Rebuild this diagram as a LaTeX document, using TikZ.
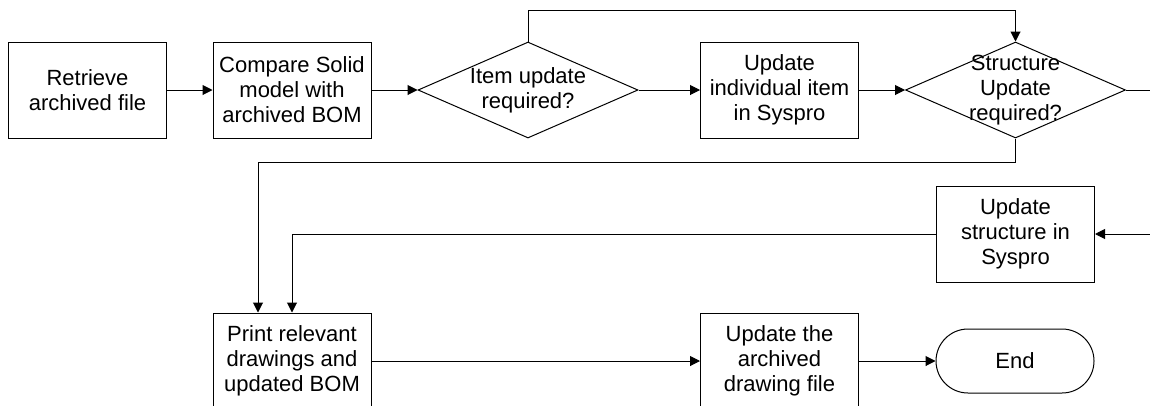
\documentclass[tikz,border=0pt]{standalone}
\usepackage{fontspec}
\setmainfont{Liberation Sans}
\usetikzlibrary{shapes.geometric,shapes.misc,arrows.meta}
\begin{document}
\begin{tikzpicture}[x=1pt,y=-1pt,
  every node/.style={font=\fontsize{22}{25}\selectfont, align=center, inner sep=0pt},
  proc/.style={draw, line width=1pt, minimum width=158pt, minimum height=96pt},
  decision/.style={draw, diamond, line width=1pt, minimum width=220pt, minimum height=96pt},
  term/.style={draw, rounded rectangle, line width=1pt, minimum width=158pt, minimum height=64pt},
  flow/.style={line width=1pt, -{Triangle[length=10pt,width=10pt]}},
  link/.style={line width=1pt}]
\useasboundingbox (0,0) rectangle (1150,405);

% top row
\node[proc] (retrieve) at (87.5,90) {Retrieve\\archived file};
\node[proc] (compare) at (292,90) {Compare Solid\\model with\\archived BOM};
\node[decision] (itemq) at (528,90) {};
\node (itemqt) at (itemq) {Item update\\required?};
\node[proc] (upditem) at (779.5,90) {Update\\individual item\\in Syspro};
\node[decision] (structq) at (1015.5,90) {};
\node (structqt) at (structq) {Structure\\Update\\required?};

% middle and bottom rows
\node[proc] (updstruct) at (1015.5,234) {Update\\structure in\\Syspro};
\node[proc] (print) at (292,361) {Print relevant\\drawings and\\updated BOM};
\node[proc] (updfile) at (779.5,361) {Update the\\archived\\drawing file};
\node[term] (end) at (1015,361) {End};

% loose ends at the right margin
\coordinate (outR) at (1150,90);
\coordinate (inR) at (1150,234);

% connectors
\draw[flow] (retrieve) -- (compare);
\draw[flow] (compare) -- (itemq);
\draw[flow] (itemq) -- (upditem);
\draw[flow] (upditem) -- (structq);
\draw[flow] (itemq.north) -- ++(0,-31) -| (structq.north);
\draw[link] (structq.east) -- (outR);
\draw[flow] (inR) -- (updstruct.east);
\draw[flow] (structq.south) -- ++(0,24) -| ([xshift=-34pt]print.north);
\draw[flow] (updstruct.west) -| (print.north);
\draw[flow] (print) -- (updfile);
\draw[flow] (updfile) -- (end);
\end{tikzpicture}
\end{document}
